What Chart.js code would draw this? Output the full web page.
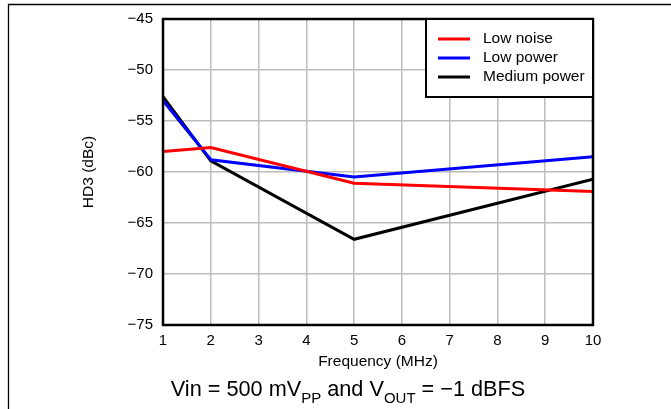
<!DOCTYPE html>
<html>
<head>
<meta charset="utf-8">
<script src="https://cdn.jsdelivr.net/npm/chart.js@4.4.1/dist/chart.umd.min.js"></script>
<style>
  html, body { margin: 0; padding: 0; background: #fff; }
  #wrap { width: 671px; height: 409px; position: relative; }
</style>
</head>
<body>
<div id="wrap"><canvas id="hd3-chart"></canvas></div>
<script>
// frequency points (MHz)
const freqs = [1, 2, 5, 10];
// HD3 in dBc
const lowNoise = [-58.0, -57.6, -61.1, -61.9];
const lowPower = [-53.0, -58.8, -60.5, -58.5];
const mediumPower = [-52.6, -58.9, -66.6, -60.7];

const seriesLabels = ['Low noise', 'Low power', 'Medium power'];
const seriesColors = ['#ff0000', '#0000ff', '#000000'];

const xTicks = [1, 2, 3, 4, 5, 6, 7, 8, 9, 10];
const yTicks = [-75, -70, -65, -60, -55, -50, -45];

const FONT = "Arial, 'Liberation Sans', sans-serif";

function toPoints(values) {
    return freqs.map((f, i) => ({ x: f, y: values[i] }));
}

// frame, plot box, inset legend and the subtitle with subscripts
const extras = {
    id: 'extras',
    beforeDraw(chart) {
        const ctx = chart.ctx;
        ctx.save();
        ctx.strokeStyle = '#000';
        ctx.lineWidth = 1.3;
        ctx.beginPath();
        ctx.moveTo(8.5, 409);
        ctx.lineTo(8.5, 4.5);
        ctx.lineTo(671, 4.5);
        ctx.stroke();
        ctx.restore();
    },
    afterDraw(chart) {
        const ctx = chart.ctx;
        const area = chart.chartArea;
        ctx.save();

        // plot border
        ctx.strokeStyle = '#000';
        ctx.lineWidth = 2.5;
        ctx.strokeRect(area.left, area.top, area.right - area.left, area.bottom - area.top);

        // legend
        const w = 167, h = 78;
        const lx = area.right - w, ly = area.top;
        ctx.fillStyle = '#fff';
        ctx.fillRect(lx, ly, w, h);
        ctx.lineWidth = 2;
        ctx.strokeRect(lx, ly, w, h);
        ctx.font = '15.5px ' + FONT;
        ctx.textBaseline = 'middle';
        chart.data.datasets.forEach((ds, i) => {
            const y = ly + 20 + i * 19;
            ctx.strokeStyle = ds.borderColor;
            ctx.lineWidth = 3;
            ctx.beginPath();
            ctx.moveTo(lx + 12, y);
            ctx.lineTo(lx + 44, y);
            ctx.stroke();
            ctx.fillStyle = '#000';
            ctx.fillText(ds.label, lx + 57, y);
        });

        // subtitle
        const parts = [
            ['Vin = 500 mV', false], ['PP', true], [' and V', false],
            ['OUT', true], [' = \u22121 dBFS', false]
        ];
        const big = '21.7px ' + FONT, small = '15px ' + FONT;
        let total = 0;
        parts.forEach(p => { ctx.font = p[1] ? small : big; total += ctx.measureText(p[0]).width; });
        let x = (area.left + area.right) / 2 - total / 2 - 30;
        const base = 396;
        ctx.fillStyle = '#000';
        ctx.textBaseline = 'alphabetic';
        ctx.textAlign = 'left';
        parts.forEach(p => {
            ctx.font = p[1] ? small : big;
            ctx.fillText(p[0], x, p[1] ? base + 7 : base);
            x += ctx.measureText(p[0]).width;
        });
        ctx.restore();
    }
};

new Chart(document.getElementById('hd3-chart'), {
    type: 'line',
    data: {
        datasets: seriesLabels.map((label, i) => ({
            label: label,
            data: toPoints([lowNoise, lowPower, mediumPower][i]),
            borderColor: seriesColors[i],
            backgroundColor: seriesColors[i],
            borderWidth: 3,
            pointRadius: 0,
            tension: 0
        }))
    },
    options: {
        responsive: true,
        maintainAspectRatio: false,
        animation: false,
        layout: { padding: { left: 0, top: 18, right: 78, bottom: 0 } },
        plugins: {
            legend: { display: false },
            tooltip: { enabled: false }
        },
        scales: {
            x: {
                type: 'linear',
                min: 1,
                max: 10,
                afterFit(scale) { scale.height = 84; },
                afterBuildTicks(scale) { scale.ticks = xTicks.map(v => ({ value: v })); },
                grid: { color: '#bcbcbc', lineWidth: 1.5, drawTicks: false },
                border: { display: false },
                ticks: {
                    padding: 7,
                    color: '#000',
                    font: { family: FONT, size: 15 }
                },
                title: {
                    display: true,
                    text: 'Frequency (MHz)',
                    color: '#000',
                    font: { family: FONT, size: 15.5 },
                    padding: { top: 0, bottom: 38 }
                }
            },
            y: {
                min: -75,
                max: -45,
                afterFit(scale) { scale.width = 163; },
                afterBuildTicks(scale) { scale.ticks = yTicks.map(v => ({ value: v })); },
                grid: { color: '#bcbcbc', lineWidth: 1.5, drawTicks: false },
                border: { display: false },
                ticks: {
                    padding: 10,
                    color: '#000',
                    font: { family: FONT, size: 15 },
                    callback: v => String(v).replace('-', '\u2212')
                },
                title: {
                    display: true,
                    text: 'HD3 (dBc)',
                    color: '#000',
                    font: { family: FONT, size: 15.5 },
                    padding: { top: 79, bottom: 0 }
                }
            }
        }
    },
    plugins: [extras]
});
</script>
</body>
</html>
